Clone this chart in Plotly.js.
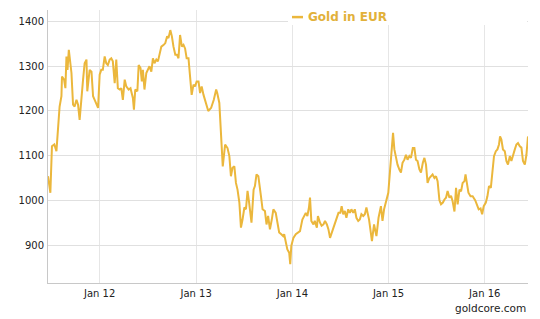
<!DOCTYPE html>
<html>
<head>
<meta charset="utf-8">
<script src="https://cdn.plot.ly/plotly-3.0.1.min.js"></script>
<style>
html,body{margin:0;padding:0;background:#fff;}
#chart{width:540px;height:319px;}
</style>
</head>
<body>
<div id="chart"></div>
<script>
var seriesName = "Gold in EUR";
var dates = [
"2011-06-19","2011-06-28","2011-07-04","2011-07-13","2011-07-21","2011-07-27","2011-08-02","2011-08-09","2011-08-11","2011-08-19",
"2011-08-24","2011-08-28","2011-09-01","2011-09-06","2011-09-10","2011-09-16","2011-09-22","2011-09-28","2011-10-05","2011-10-11",
"2011-10-17","2011-10-24","2011-10-30","2011-11-05","2011-11-12","2011-11-15","2011-11-24","2011-12-01","2011-12-07","2011-12-13",
"2011-12-19","2011-12-26","2012-01-01","2012-01-07","2012-01-13","2012-01-20","2012-01-26","2012-02-01","2012-02-08","2012-02-14",
"2012-02-20","2012-02-27","2012-03-04","2012-03-10","2012-03-17","2012-03-23","2012-03-29","2012-04-05","2012-04-11","2012-04-20",
"2012-04-27","2012-05-06","2012-05-10","2012-05-15","2012-05-23","2012-05-28","2012-06-04","2012-06-09","2012-06-13","2012-06-19",
"2012-06-26","2012-07-02","2012-07-08","2012-07-15","2012-07-21","2012-07-27","2012-08-03","2012-08-09","2012-08-15","2012-08-22",
"2012-08-31","2012-09-06","2012-09-13","2012-09-18","2012-09-25","2012-10-01","2012-10-07","2012-10-14","2012-10-20","2012-10-26",
"2012-11-01","2012-11-08","2012-11-14","2012-11-20","2012-11-26","2012-12-03","2012-12-09","2012-12-15","2012-12-22","2012-12-28",
"2013-01-03","2013-01-10","2013-01-16","2013-01-22","2013-01-29","2013-02-04","2013-02-10","2013-02-16","2013-02-27","2013-03-09",
"2013-03-18","2013-03-22","2013-03-30","2013-04-05","2013-04-12","2013-04-21","2013-04-30","2013-05-07","2013-05-13","2013-05-19",
"2013-05-26","2013-06-01","2013-06-07","2013-06-14","2013-06-20","2013-06-26","2013-07-03","2013-07-09","2013-07-15","2013-07-21",
"2013-07-30","2013-08-07","2013-08-12","2013-08-18","2013-08-25","2013-09-04","2013-09-10","2013-09-19","2013-09-25","2013-10-01",
"2013-10-08","2013-10-15","2013-10-21","2013-10-30","2013-11-05","2013-11-12","2013-11-20","2013-11-27","2013-12-01","2013-12-07",
"2013-12-13","2013-12-20","2013-12-24","2013-12-28","2014-01-05","2014-01-14","2014-01-23","2014-01-30","2014-02-08","2014-02-14",
"2014-02-21","2014-02-27","2014-03-05","2014-03-09","2014-03-14","2014-03-22","2014-03-27","2014-04-04","2014-04-08","2014-04-16",
"2014-04-22","2014-04-29","2014-05-05","2014-05-12","2014-05-18","2014-05-24","2014-05-31","2014-06-06","2014-06-13","2014-06-19",
"2014-06-25","2014-07-02","2014-07-07","2014-07-13","2014-07-19","2014-07-25","2014-08-01","2014-08-07","2014-08-13","2014-08-20",
"2014-08-26","2014-09-01","2014-09-08","2014-09-14","2014-09-20","2014-09-27","2014-10-03","2014-10-09","2014-10-16","2014-10-19",
"2014-10-30","2014-11-07","2014-11-16","2014-11-24","2014-12-03","2014-12-09","2014-12-15","2014-12-22","2014-12-31","2015-01-06",
"2015-01-12","2015-01-18","2015-01-23","2015-01-29","2015-02-04","2015-02-11","2015-02-17","2015-02-23","2015-03-02","2015-03-08",
"2015-03-14","2015-03-21","2015-03-27","2015-04-03","2015-04-09","2015-04-15","2015-04-21","2015-04-28","2015-05-04","2015-05-11",
"2015-05-17","2015-05-23","2015-05-29","2015-06-05","2015-06-11","2015-06-17","2015-06-24","2015-06-30","2015-07-06","2015-07-13",
"2015-07-19","2015-07-26","2015-08-01","2015-08-07","2015-08-13","2015-08-20","2015-08-26","2015-09-01","2015-09-08","2015-09-14",
"2015-09-20","2015-09-27","2015-10-03","2015-10-09","2015-10-16","2015-10-20","2015-10-25","2015-10-31","2015-11-08","2015-11-16",
"2015-11-26","2015-12-03","2015-12-09","2015-12-16","2015-12-22","2015-12-28","2016-01-05","2016-01-11","2016-01-17","2016-01-24",
"2016-01-30","2016-02-05","2016-02-12","2016-02-18","2016-02-24","2016-02-28","2016-03-04","2016-03-10","2016-03-17","2016-03-23",
"2016-03-29","2016-04-05","2016-04-11","2016-04-17","2016-04-24","2016-04-30","2016-05-06","2016-05-13","2016-05-19","2016-05-25",
"2016-06-01","2016-06-07","2016-06-13"
];
var goldEur = [
1054,1017,1121,1125,1110,1158,1210,1233,1277,1270,
1251,1322,1292,1337,1315,1285,1214,1210,1225,1214,
1180,1240,1270,1307,1315,1244,1292,1288,1233,1225,
1218,1207,1281,1292,1292,1322,1307,1303,1315,1318,
1311,1262,1315,1251,1248,1251,1225,1270,1255,1248,
1251,1229,1203,1248,1244,1303,1296,1266,1292,1248,
1285,1292,1300,1288,1318,1307,1315,1311,1329,1344,
1348,1352,1367,1363,1381,1367,1344,1326,1326,1318,
1370,1344,1348,1340,1318,1318,1277,1236,1259,1255,
1266,1266,1240,1255,1236,1225,1214,1200,1207,1225,
1248,1240,1218,1151,1076,1125,1117,1099,1054,1073,
1076,1039,1024,995,939,957,984,980,1021,995,
950,1024,1032,1058,1054,1009,980,976,946,965,
935,957,980,972,950,928,924,920,924,905,
890,883,857,898,916,924,928,931,957,965,
972,965,984,1006,954,946,954,939,965,950,
943,946,954,946,935,916,928,943,954,965,
972,972,987,969,976,961,980,972,980,972,
980,961,954,957,969,965,969,984,969,957,
909,946,920,961,987,954,980,995,1017,1062,
1114,1151,1114,1095,1080,1069,1062,1084,1091,1102,
1091,1099,1095,1117,1117,1091,1088,1069,1062,1084,
1095,1080,1039,1050,1054,1058,1050,1054,1043,1000,
991,995,1002,1006,1021,1006,1010,998,975,1028,
991,1024,1020,1039,1043,1058,1039,1017,1009,1009,
1000,991,980,982,969,987,995,1009,1032,1028,
1062,1099,1110,1114,1125,1143,1136,1114,1110,1088,
1080,1099,1088,1102,1114,1125,1128,1121,1118,1088,
1080,1102,1143
];
var sourceText = "goldcore.com";

var lineColor = "#EBB73C";

var trace = {
  x: dates,
  y: goldEur,
  type: "scatter",
  mode: "lines",
  name: seriesName,
  line: {color: lineColor, width: 2},
  showlegend: false,
  hoverinfo: "x+y"
};

var layout = {
  width: 540,
  height: 319,
  margin: {l: 48, r: 12, t: 10, b: 36, pad: 0},
  paper_bgcolor: "#ffffff",
  plot_bgcolor: "#ffffff",
  font: {family: "DejaVu Sans, Verdana, sans-serif", size: 10, color: "#333333"},
  xaxis: {
    type: "date",
    range: ["2011-06-19", "2016-06-13"],
    tick0: "2012-01-01",
    dtick: "M12",
    tickformat: "%b %y",
    showgrid: true,
    gridcolor: "#e6e6e6",
    gridwidth: 1,
    showline: true,
    linecolor: "#c8c8c8",
    linewidth: 1,
    ticks: "",
    zeroline: false,
    ticklabelstandoff: 1,
    tickfont: {family: "DejaVu Sans, Verdana, sans-serif", size: 10, color: "#222222"}
  },
  yaxis: {
    range: [815, 1426],
    tick0: 900,
    dtick: 100,
    showgrid: true,
    gridcolor: "#e0e0e0",
    gridwidth: 1,
    showline: true,
    linecolor: "#c8c8c8",
    linewidth: 1,
    ticks: "",
    zeroline: false,
    ticklabelstandoff: 1,
    tickfont: {family: "DejaVu Sans, Verdana, sans-serif", size: 10, color: "#222222"}
  },
  shapes: [
    {type: "rect", xref: "paper", yref: "paper", x0: 0.5, x1: 0.998, y0: 0.945, y1: 1.0,
     fillcolor: "#ffffff", line: {width: 0}, layer: "above"},
    {type: "line", xref: "paper", yref: "paper", x0: 0.5083, x1: 0.5313, y0: 0.974, y1: 0.974,
     line: {color: lineColor, width: 2.5}, layer: "above"}
  ],
  annotations: [
    {text: "<b>" + seriesName + "</b>", xref: "paper", yref: "paper", x: 0.5375, y: 0.974,
     xanchor: "left", yanchor: "middle", showarrow: false,
     font: {family: "DejaVu Sans, Verdana, sans-serif", size: 12, color: "#E2B13A"}},
    {text: sourceText, xref: "paper", yref: "paper", x: 1.0, y: -0.0916,
     xanchor: "right", yanchor: "middle", showarrow: false,
     font: {family: "DejaVu Sans, Verdana, sans-serif", size: 10.5, color: "#222222"}}
  ]
};

Plotly.newPlot("chart", [trace], layout, {displayModeBar: false, staticPlot: true});
</script>
</body>
</html>
